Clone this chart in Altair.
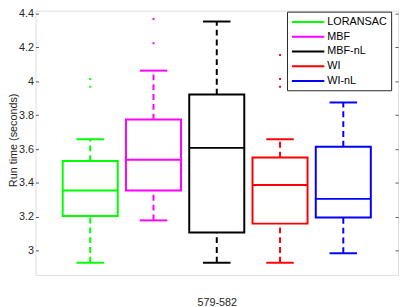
import altair as alt
import pandas as pd

methods = ["LORANSAC", "MBF", "MBF-nL", "WI", "WI-nL"]
colors = ["#00ff00", "#ff00ff", "#000000", "#ff0000", "#0000ff"]
q1 = [3.205, 3.356, 3.108, 3.160, 3.196]
median = [3.356, 3.537, 3.607, 3.388, 3.306]
q3 = [3.529, 3.774, 3.922, 3.550, 3.614]
whisker_lo = [2.929, 3.179, 2.929, 2.929, 2.985]
whisker_hi = [3.658, 4.063, 4.353, 3.658, 3.875]
outlier_method = ["LORANSAC", "LORANSAC", "MBF", "MBF", "WI", "WI", "WI"]
outlier_value = [4.014, 3.968, 4.368, 4.225, 4.155, 4.014, 3.968]
y_ticks = [3.0, 3.2, 3.4, 3.6, 3.8, 4.0, 4.2, 4.4]
y_domain = [2.857, 4.417]
x_label = "579-582"
y_label = "Run time (seconds)"

stats = pd.DataFrame(dict(method=methods, q1=q1, med=median, q3=q3,
                          lo=whisker_lo, hi=whisker_hi))
outl = pd.DataFrame(dict(method=outlier_method, value=outlier_value))

AX = "#262626"
FONT = "Liberation Sans"

xenc = alt.X("method:N",
             scale=alt.Scale(domain=methods, paddingInner=0.13, paddingOuter=0.43),
             axis=alt.Axis(title=x_label, labels=False, ticks=False, domain=False,
                           titleFontSize=11, titleFontWeight="normal", titleColor=AX,
                           titleFont=FONT, titlePadding=22))
yscale = alt.Scale(domain=y_domain, nice=False, zero=False)
yaxis = alt.Axis(values=y_ticks, format="~g", title=y_label, offset=-3, tickSize=3,
                 domain=False, grid=False, labelPadding=2, labelFontSize=11,
                 labelColor=AX, labelFont=FONT, tickColor="#555555",
                 titleFontSize=11, titleFontWeight="normal", titleColor=AX,
                 titleFont=FONT, titleX=-25, titleY=131.5, titleBaseline="middle",
                 titleAngle=270)
color = alt.Color("method:N", scale=alt.Scale(domain=methods, range=colors),
                  legend=alt.Legend(title=None, orient="none", legendX=256, legendY=1,
                                    direction="vertical", symbolType="M-1,0H5",
                                    symbolSize=121, symbolStrokeWidth=2,
                                    labelFontSize=11, labelColor="#000000",
                                    labelFont=FONT, labelOffset=24, padding=4,
                                    rowPadding=3, strokeColor=AX, fillColor="white"))

base = alt.Chart(stats)
dash = [6, 4]
upper = base.mark_rule(strokeWidth=2, strokeDash=dash).encode(
    x=xenc, y=alt.Y("q3:Q", scale=yscale, axis=yaxis), y2="hi:Q", color=color)
lower = base.mark_rule(strokeWidth=2, strokeDash=dash).encode(
    x=xenc, y=alt.Y("lo:Q", scale=yscale, axis=yaxis), y2="q1:Q", color=color)
cap_hi = base.mark_rule(strokeWidth=2, xOffset=-14, x2Offset=14).encode(
    x=xenc, x2="method:N", y=alt.Y("hi:Q", scale=yscale, axis=yaxis), color=color)
cap_lo = base.mark_rule(strokeWidth=2, xOffset=-14, x2Offset=14).encode(
    x=xenc, x2="method:N", y=alt.Y("lo:Q", scale=yscale, axis=yaxis), color=color)
box = base.mark_bar(filled=False, strokeWidth=2).encode(
    x=xenc, y=alt.Y("q1:Q", scale=yscale, axis=yaxis), y2="q3:Q", color=color)
med = base.mark_rule(strokeWidth=2, xOffset=-28, x2Offset=28).encode(
    x=xenc, x2="method:N", y=alt.Y("med:Q", scale=yscale, axis=yaxis), color=color)

main = alt.layer(upper, lower, cap_hi, cap_lo, box, med)

pts = alt.Chart(outl).mark_square(size=4, opacity=1).encode(
    x=xenc,
    y=alt.Y("value:Q", scale=yscale,
            axis=alt.Axis(orient="right", values=y_ticks, labels=False, title=None,
                          domain=False, grid=False, tickSize=3, offset=-3,
                          tickColor="#555555")),
    color=alt.Color("method:N", scale=alt.Scale(domain=methods, range=colors), legend=None),
)

chart = alt.layer(main, pts).resolve_axis(y="independent").properties(
    width=369, height=269,
    autosize=alt.AutoSizeParams(type="none"),
    padding={"left": 28, "top": 0, "right": 1, "bottom": 35},
).configure_view(stroke="#555555", strokeWidth=1).configure(font=FONT)

chart.save("out.html", embed_options={"renderer": "svg", "actions": False})
